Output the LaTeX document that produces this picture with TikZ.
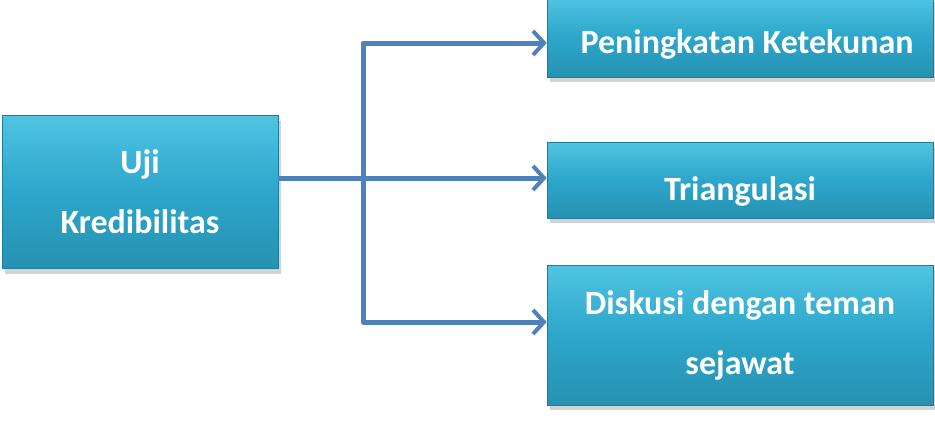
\documentclass[tikz,border=0pt]{standalone}
\usepackage{fontspec}
\setmainfont{Carlito}
\usetikzlibrary{
  positioning,
  arrows.meta,
  shadows
}
\definecolor{tealbox}{RGB}{44,166,202}
\definecolor{tealtop}{RGB}{80,196,226}
\definecolor{tealedge}{RGB}{30,125,155}
\definecolor{linkblue}{RGB}{79,129,189}
\tikzset{
  kotak/.style={
    draw=tealedge, line width=.6pt,
    top color=tealtop, bottom color=tealbox!88!black, middle color=tealbox,
    text=white, align=center,
    font=\bfseries\fontsize{34}{60}\selectfont,
    drop shadow={shadow xshift=3pt, shadow yshift=-5pt, opacity=.35}
  },
  panah/.style={
    draw=linkblue, line width=5pt, line join=round,
    -{Straight Barb[length=11pt,width=24pt,line width=4pt]}
  }
}

\begin{document}
\begin{tikzpicture}[x=1pt,y=-1pt]
\useasboundingbox (0,0) rectangle (935,423);
\node[kotak, minimum width=276pt, minimum height=153pt] (uji) at (140,192) {Uji\\Kredibilitas};
\node[kotak, minimum width=386pt, minimum height=80pt, text height=36pt, text depth=4pt] (atas) at (740,37) {\hspace*{14pt}Peningkatan Ketekunan};
\node[kotak, minimum width=386pt, minimum height=76pt, text height=44pt, text depth=4pt] (tengah) at (740,180) {Triangulasi};
\node[kotak, minimum width=386pt, minimum height=140pt] (bawah) at (740,335) {Diskusi dengan teman\\sejawat};

\coordinate (cabang) at (363,178);
\coordinate (ujungA) at (363,43);
\coordinate (ujungB) at (363,322);

% garis penghubung
\draw[panah] (uji.east |- cabang) -- (cabang -| tengah.west);
\draw[panah] (cabang) |- (ujungA -| atas.west);
\draw[panah] (cabang) |- (ujungB -| bawah.west);
\end{tikzpicture}
\end{document}
